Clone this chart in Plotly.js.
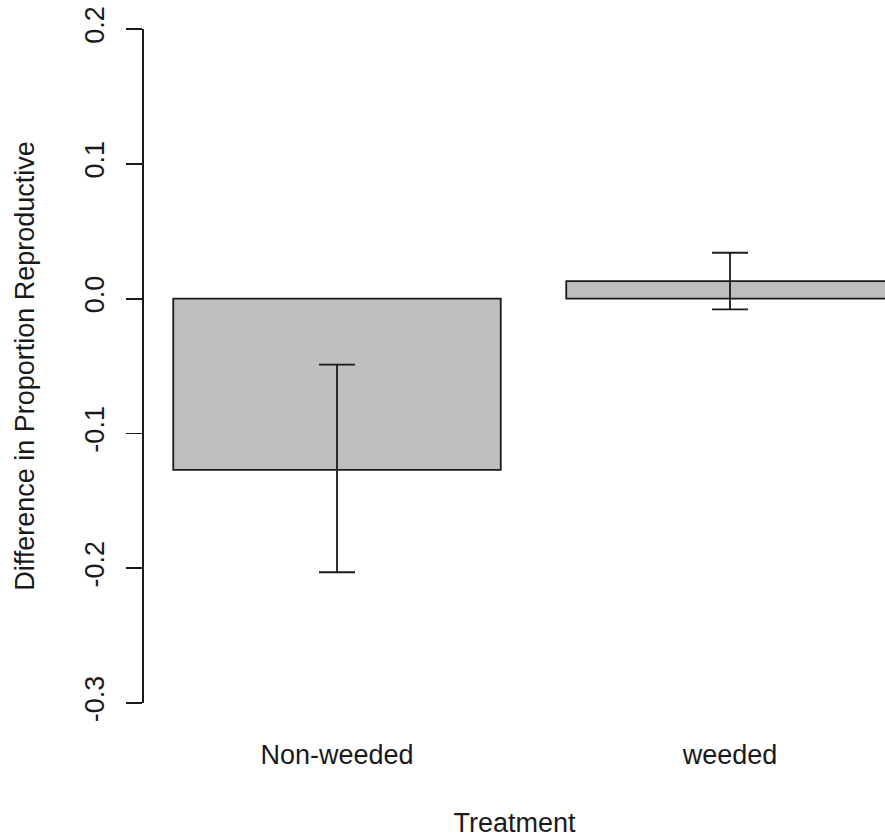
<!DOCTYPE html>
<html>
<head>
<meta charset="utf-8">
<script src="https://cdn.plot.ly/plotly-3.0.1.min.js"></script>
<style>
  html, body { margin: 0; padding: 0; background: #ffffff; }
  #chart { width: 885px; height: 840px; }
</style>
</head>
<body>
<div id="chart"></div>
<script>
// Data
var categories = ['Non-weeded', 'weeded'];
var means = [-0.127, 0.013];
var upperBounds = [-0.049, 0.034];
var lowerBounds = [-0.203, -0.008];
var yTickValues = [-0.3, -0.2, -0.1, 0.0, 0.1, 0.2];
var yTickLabels = ['-0.3', '-0.2', '-0.1', '0.0', '0.1', '0.2'];

// R barplot convention: width 1, space 0.2
var barPositions = categories.map(function (c, i) { return 0.7 + i * 1.2; });
var errPlus = means.map(function (m, i) { return upperBounds[i] - m; });
var errMinus = means.map(function (m, i) { return m - lowerBounds[i]; });

var FONT = 'Liberation Sans, Arial, sans-serif';
var FS = 27;
var INK = '#1a1a1a';

var trace = {
  type: 'bar',
  x: barPositions,
  y: means,
  width: 1,
  marker: { color: '#bebebe', line: { color: INK, width: 1.8 } },
  error_y: {
    type: 'data',
    symmetric: false,
    array: errPlus,
    arrayminus: errMinus,
    color: INK,
    thickness: 1.8,
    width: 18
  },
  hoverinfo: 'skip'
};

var layout = {
  width: 885,
  height: 840,
  margin: { l: 144, r: 0, t: 29, b: 137 },
  paper_bgcolor: '#ffffff',
  plot_bgcolor: '#ffffff',
  showlegend: false,
  font: { family: FONT, size: FS, color: INK },
  xaxis: {
    range: [0.1107, 2.3733],
    tickvals: barPositions,
    ticktext: categories,
    ticks: '',
    showline: false,
    showgrid: false,
    zeroline: false,
    tickfont: { family: FONT, size: FS, color: INK },
    ticklabelstandoff: 33,
    title: { text: 'Treatment', font: { family: FONT, size: FS, color: INK }, standoff: 44 }
  },
  yaxis: {
    range: [-0.3, 0.2],
    tickvals: yTickValues,
    ticktext: yTickLabels,
    ticks: 'outside',
    ticklen: 16,
    tickwidth: 1.8,
    tickcolor: INK,
    showline: true,
    linecolor: INK,
    linewidth: 1.8,
    showgrid: false,
    zeroline: false,
    tickangle: -90,
    tickfont: { family: FONT, size: FS, color: INK },
    ticklabelstandoff: 11,
    title: { text: 'Difference in Proportion Reproductive', font: { family: FONT, size: FS, color: INK }, standoff: 38 }
  }
};

Plotly.newPlot('chart', [trace], layout, { staticPlot: true, displayModeBar: false });
</script>
</body>
</html>
